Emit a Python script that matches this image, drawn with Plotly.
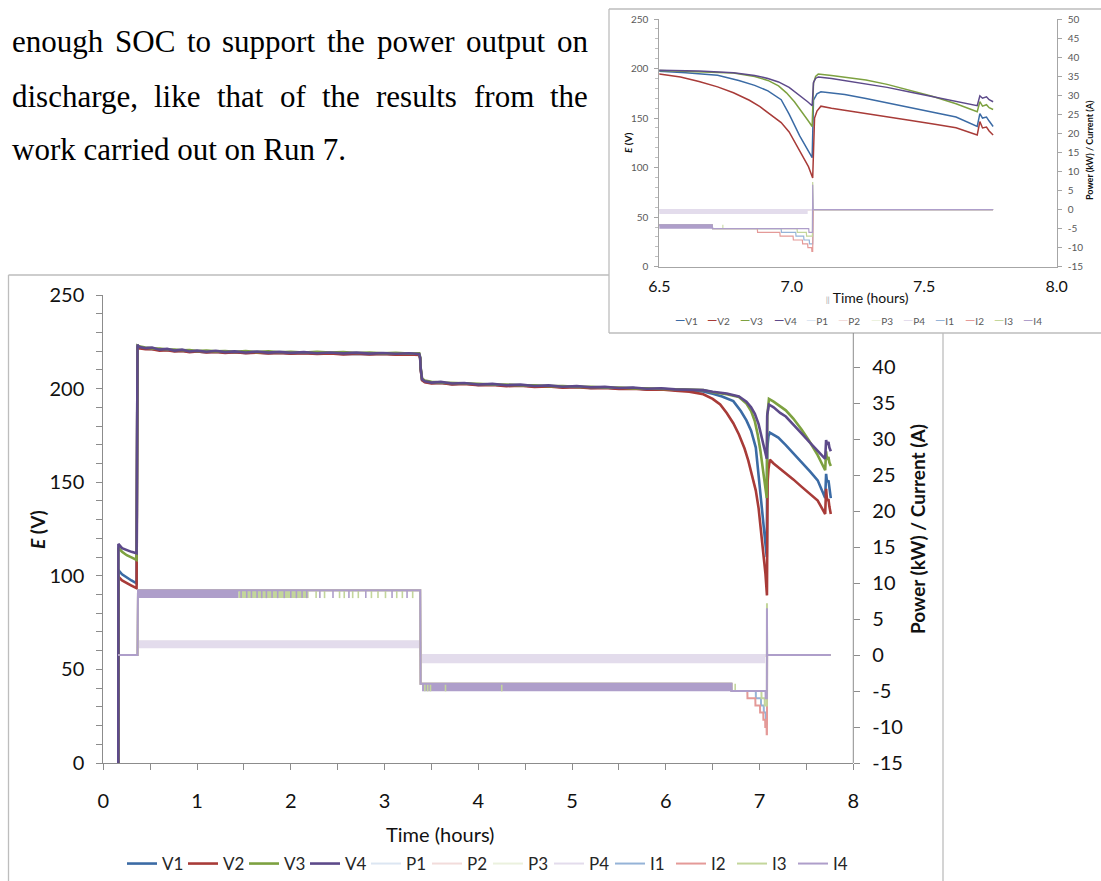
import plotly.graph_objects as go

W, H = 1101, 881
SANS = "Lato"
SERIF = "Liberation Serif"

# ---------------- stack voltages (left axis, V) ----------------
t_start = [0.16, 0.161, 0.20, 0.25, 0.30, 0.355]
t_run_a = [0.365, 0.38, 0.45, 0.52, 0.60, 0.68, 0.76, 0.84, 0.92, 1.00, 1.10, 1.20, 1.30, 1.40,
           1.52, 1.64, 1.76, 1.88, 2.00, 2.14, 2.28, 2.42, 2.56, 2.70, 2.84, 2.98, 3.12, 3.26, 3.37]
t_run_b = [3.38, 3.385, 3.40, 3.43, 3.50, 3.60, 3.72, 3.85, 4.00, 4.15, 4.30, 4.45, 4.60, 4.75,
           4.90, 5.05, 5.20, 5.35, 5.50, 5.65, 5.80, 5.95, 6.10, 6.25]

v1_start = [0, 103.0, 100.8, 99.0, 97.5, 96.0]
v2_start = [0, 99.5, 97.5, 96.0, 94.8, 93.4]
v3_start = [0, 115.0, 112.8, 111.0, 109.8, 108.5]
v4_start = [0, 117.0, 114.8, 113.6, 112.8, 112.0]

v1_run_a = [222.6, 221.9, 221.3, 221.2, 220.6, 220.7, 220.1, 220.3, 219.7, 219.9, 219.5, 219.7, 219.3, 219.5,
            219.1, 219.3, 218.9, 219.2, 218.8, 219.0, 218.6, 218.9, 218.5, 218.7, 218.4, 218.6, 218.3, 218.5, 218.2]
v2_run_a = [222.2, 221.6, 221.0, 221.0, 220.3, 220.5, 219.9, 220.1, 219.5, 219.8, 219.3, 219.6, 219.1, 219.4,
            218.9, 219.2, 218.8, 219.0, 218.6, 218.9, 218.5, 218.8, 218.3, 218.6, 218.2, 218.5, 218.1, 218.3, 218.0]
v3_run_a = [223.0, 222.6, 222.0, 221.5, 221.4, 220.9, 220.9, 220.5, 220.6, 220.0, 220.3, 219.9, 220.1, 219.6,
            220.0, 219.5, 219.9, 219.4, 219.7, 219.3, 219.6, 219.2, 219.5, 219.0, 219.3, 218.8, 219.1, 218.7, 218.8]
v4_run_a = [223.5, 222.3, 221.6, 221.9, 220.8, 221.2, 220.3, 220.8, 219.8, 220.3, 219.7, 220.2, 219.5, 219.9,
            219.3, 219.8, 219.2, 219.6, 219.1, 219.5, 218.9, 219.3, 218.8, 219.2, 218.7, 219.0, 218.6, 218.9, 218.5]

v1_run_b = [216.2, 210.6, 204.7, 203.6, 203.0, 203.2, 202.4, 202.7, 202.0, 202.2, 201.5, 201.8, 201.1, 201.4,
            200.7, 201.0, 200.4, 200.6, 200.0, 200.3, 199.6, 199.9, 199.3, 199.0]
v2_run_b = [216.0, 210.3, 204.5, 203.4, 202.8, 203.0, 202.2, 202.5, 201.8, 202.0, 201.3, 201.6, 200.9, 201.2,
            200.5, 200.8, 200.2, 200.4, 199.8, 200.0, 199.4, 199.6, 198.9, 198.4]
v3_run_b = [216.8, 211.5, 205.4, 204.3, 203.6, 203.2, 203.1, 202.6, 202.6, 202.1, 202.2, 201.7, 201.8, 201.3,
            201.4, 200.9, 201.0, 200.5, 200.6, 200.1, 200.2, 199.8, 199.8, 199.5]
v4_run_b = [216.5, 211.0, 205.0, 203.9, 203.2, 203.6, 202.7, 203.0, 202.2, 202.5, 201.8, 202.1, 201.4, 201.7,
            201.0, 201.3, 200.7, 200.9, 200.3, 200.6, 199.9, 200.2, 199.6, 199.4]

t_v1_end = [6.40, 6.50, 6.60, 6.72, 6.80, 6.86, 6.91, 6.96, 6.99, 7.03, 7.06, 7.077, 7.082, 7.095, 7.11,
            7.15, 7.20, 7.28, 7.36, 7.45, 7.54, 7.62, 7.70, 7.71, 7.72, 7.735, 7.745, 7.76]
v1_end = [198.5, 197.2, 195.8, 193.3, 188.0, 183.0, 177.5, 168.5, 154.0, 132.0, 118.0, 110.0, 168.0, 174.5, 176.5,
          175.2, 173.8, 169.8, 165.5, 160.8, 155.6, 151.0, 141.5, 154.5, 150.0, 151.0, 147.0, 141.5]

t_v2_end = [6.40, 6.50, 6.58, 6.65, 6.72, 6.78, 6.84, 6.88, 6.92, 6.96, 6.99, 7.02, 7.045, 7.063, 7.079, 7.086,
            7.095, 7.11, 7.15, 7.20, 7.28, 7.36, 7.45, 7.54, 7.62, 7.70, 7.71, 7.72, 7.735, 7.745, 7.76]
v2_end = [197.0, 194.5, 191.5, 187.0, 181.5, 175.5, 168.0, 161.5, 153.5, 145.5, 136.0, 122.0, 110.0, 101.0, 89.5, 150.0,
          157.0, 162.0, 160.0, 158.0, 155.0, 151.5, 147.5, 143.8, 140.2, 133.0, 146.5, 140.0, 141.0, 137.0, 133.0]

t_v3_end = [6.40, 6.50, 6.65, 6.78, 6.86, 6.91, 6.95, 6.98, 7.01, 7.04, 7.06, 7.077, 7.082, 7.09, 7.10,
            7.15, 7.22, 7.28, 7.36, 7.45, 7.53, 7.62, 7.70, 7.71, 7.72, 7.735, 7.745, 7.76]
v3_end = [199.2, 198.0, 197.0, 195.5, 192.0, 188.0, 182.5, 175.5, 166.5, 156.0, 148.0, 141.5, 185.0, 192.0, 194.5,
          193.0, 190.5, 188.4, 184.0, 178.0, 172.0, 164.5, 156.4, 166.5, 162.0, 163.5, 160.5, 158.7]

t_v4_end = [6.40, 6.50, 6.65, 6.78, 6.86, 6.91, 6.95, 6.99, 7.03, 7.06, 7.077, 7.082, 7.09, 7.10,
            7.15, 7.22, 7.28, 7.36, 7.45, 7.53, 7.62, 7.70, 7.71, 7.72, 7.735, 7.745, 7.76]
v4_end = [199.2, 198.3, 197.4, 195.8, 193.0, 190.0, 186.5, 181.0, 173.2, 166.5, 162.5, 186.0, 190.0, 191.5,
          190.0, 187.0, 185.1, 181.0, 176.0, 171.5, 167.0, 162.5, 172.5, 170.0, 171.5, 168.5, 166.5]

# ---------------- power (right axis, kW) ----------------
t_p = [0.16, 0.365, 0.37, 3.38, 3.385, 7.065, 7.08, 7.76]
p1 = [0, 0, 1.80, 1.80, -0.10, -0.10, 0, 0]
p2 = [0, 0, 1.75, 1.75, -0.15, -0.15, 0, 0]
p3 = [0, 0, 1.85, 1.85, -0.05, -0.05, 0, 0]
p4 = [0, 0, 1.90, 1.90, 0.00, 0.00, 0, 0]
# spread of the sampled power while running (start, end, low, high)
p_spread = [(0.37, 3.38, 0.95, 1.90), (3.39, 7.06, -1.15, -0.05)]

# ---------------- current (right axis, A) ----------------
t_i1 = [0.16, 0.365, 0.37, 3.38, 3.385, 6.70, 6.701, 6.96, 6.961, 7.015, 7.016, 7.045, 7.046, 7.066, 7.067,
        7.079, 7.081, 7.76]
i1 = [0, 0, 9.0, 9.0, -4.0, -4.0, -5.0, -5.0, -6.0, -6.0, -7.0, -7.0, -8.0, -8.0, -9.0, -9.0, 0, 0]
t_i2 = [0.16, 0.365, 0.37, 3.38, 3.385, 6.70, 6.701, 6.87, 6.871, 6.955, 6.956, 7.005, 7.006, 7.04, 7.041,
        7.06, 7.061, 7.075, 7.076, 7.079, 7.081, 7.76]
i2 = [0, 0, 9.0, 9.0, -4.0, -4.0, -5.0, -5.0, -6.0, -6.0, -7.0, -7.0, -8.0, -8.0, -9.0, -9.0, -10.0, -10.0,
      -11.0, -11.0, 0, 0]
t_i3 = [0.16, 0.365, 0.37, 3.38, 3.385, 6.70, 6.701, 7.02, 7.021, 7.055, 7.056, 7.078, 7.079, 7.081, 7.76]
i3 = [0, 0, 9.0, 9.0, -4.0, -4.0, -5.0, -5.0, -6.0, -6.0, -7.0, -7.0, 7.2, 0, 0]
t_i4 = [0.16, 0.365, 0.37, 3.38, 3.385, 6.70, 6.701, 7.064, 7.065, 7.078, 7.079, 7.081, 7.76]
i4 = [0, 0, 9.0, 9.0, -4.0, -4.0, -5.0, -5.0, -6.0, -6.0, 6.5, 0, 0]
# spread of the sampled current (start, end, low, high)
i3_spread = [(1.44, 2.19, 7.9, 9.0)]
i4_spread = [(0.37, 1.44, 7.9, 9.0), (3.40, 6.70, -5.05, -3.95)]
# single-sample dips (time, low, high)
i3_dips = [(2.27, 7.9, 9.0), (2.36, 7.9, 9.0), (2.52, 7.9, 9.0), (2.57, 7.9, 9.0), (2.66, 7.9, 9.0),
           (2.72, 7.9, 9.0), (2.86, 7.9, 9.0), (2.93, 7.9, 9.0), (3.01, 7.9, 9.0), (3.13, 7.9, 9.0),
           (3.19, 7.9, 9.0), (3.30, 7.9, 9.0), (3.43, -5.05, -3.95), (3.46, -5.05, -3.95),
           (3.49, -5.05, -3.95), (3.65, -5.05, -3.95), (4.25, -5.05, -3.95), (6.74, -5.0, -4.0)]
i4_dips = [(1.47, 7.9, 9.0), (1.53, 7.9, 9.0), (1.58, 7.9, 9.0), (1.64, 7.9, 9.0), (1.69, 7.9, 9.0),
           (1.74, 7.9, 9.0), (1.80, 7.9, 9.0), (1.86, 7.9, 9.0), (1.93, 7.9, 9.0), (2.00, 7.9, 9.0),
           (2.06, 7.9, 9.0), (2.12, 7.9, 9.0), (2.17, 7.9, 9.0), (2.31, 7.9, 9.0), (2.45, 7.9, 9.0),
           (2.62, 7.9, 9.0), (2.80, 7.9, 9.0), (3.08, 7.9, 9.0), (3.24, 7.9, 9.0)]

names = ["V1", "V2", "V3", "V4", "P1", "P2", "P3", "P4", "I1", "I2", "I3", "I4"]
colors = {"V1": "#3B6BA5", "V2": "#A83B38", "V3": "#7DA140", "V4": "#5D4A8A",
          "P1": "#DCE6F2", "P2": "#F2DCDB", "P3": "#EBF1DE", "P4": "#E3DCEC",
          "I1": "#95B3D7", "I2": "#E49A98", "I3": "#C3D69B", "I4": "#AE9ECA"}

right_ticks = [-15, -10, -5, 0, 5, 10, 15, 20, 25, 30, 35, 40, 45, 50]

v_series = {
    "V1": (t_start + t_run_a + t_run_b + t_v1_end, v1_start + v1_run_a + v1_run_b + v1_end),
    "V2": (t_start + t_run_a + t_run_b + t_v2_end, v2_start + v2_run_a + v2_run_b + v2_end),
    "V3": (t_start + t_run_a + t_run_b + t_v3_end, v3_start + v3_run_a + v3_run_b + v3_end),
    "V4": (t_start + t_run_a + t_run_b + t_v4_end, v4_start + v4_run_a + v4_run_b + v4_end),
}
p_series = {"P1": (t_p, p1), "P2": (t_p, p2), "P3": (t_p, p3), "P4": (t_p, p4)}
i_series = {"I1": (t_i1, i1), "I2": (t_i2, i2), "I3": (t_i3, i3), "I4": (t_i4, i4)}


def px(x):
    return x / W


def py(y):
    return 1 - y / H


fig = go.Figure()


def line(x, y, name, width, xa, ya, show):
    fig.add_trace(go.Scatter(x=x, y=y, mode="lines", name=name, legendgroup=name, showlegend=show,
                             line=dict(color=colors[name], width=width), xaxis=xa, yaxis=ya,
                             hoverinfo="skip"))


def spread(blocks, name, xa, ya):
    for a, b, lo, hi in blocks:
        fig.add_trace(go.Scatter(x=[a, b, b, a, a], y=[hi, hi, lo, lo, hi], mode="lines", fill="toself",
                                 fillcolor=colors[name], line=dict(width=0), legendgroup=name,
                                 showlegend=False, xaxis=xa, yaxis=ya, hoverinfo="skip"))


def dips(items, name, width, xa, ya):
    xs, ys = [], []
    for t, lo, hi in items:
        xs += [t, t, None]
        ys += [hi, lo, None]
    fig.add_trace(go.Scatter(x=xs, y=ys, mode="lines", line=dict(color=colors[name], width=width),
                             legendgroup=name, showlegend=False, xaxis=xa, yaxis=ya, hoverinfo="skip"))


# main chart and the 6.5-8 h close-up use the same series
panels = [("x", "y", "y2", 2.6, 2.0, 1.6, True),
          ("x2", "y3", "y4", 1.5, 1.2, 1.0, False)]
for xa, yl, yr, wv, wpi, wd, show in panels:
    for n in ["V1", "V2", "V3", "V4"]:
        line(*v_series[n], n, wv, xa, yl, show)
    for n in ["P1", "P2", "P3", "P4"]:
        line(*p_series[n], n, wpi, xa, yr, show)
    spread(p_spread, "P4", xa, yr)
    for n in ["I1", "I2", "I3"]:
        line(*i_series[n], n, wpi, xa, yr, show)
    spread(i3_spread, "I3", xa, yr)
    spread(i4_spread, "I4", xa, yr)
    dips(i3_dips, "I3", wd, xa, yr)
    dips(i4_dips, "I4", wd, xa, yr)
    line(*i_series["I4"], "I4", wpi, xa, yr, show)

AX = "#8C8C8C"
main_x = [103.3, 853.3]
main_y = [295.0, 763.0]
ins_x = [659.3, 1056.7]
ins_y = [19.0, 266.7]

fig.update_layout(
    width=W, height=H, margin=dict(l=0, r=0, t=0, b=0, autoexpand=False),
    paper_bgcolor="white", plot_bgcolor="rgba(0,0,0,0)",
    font=dict(family=SANS, color="#1F1F1F"),
    xaxis=dict(domain=[px(main_x[0]), px(main_x[1])], anchor="y", range=[0, 8], tickvals=list(range(9)),
               showgrid=False, zeroline=False, showline=True, linecolor=AX, linewidth=1,
               ticks="outside", ticklen=6, tickcolor=AX,
               minor=dict(tickvals=[0.5, 1.5, 2.5, 3.5, 4.5, 5.5, 6.5, 7.5], ticks="outside", ticklen=6,
                          tickcolor=AX),
               tickfont=dict(size=20, color="#111111"), ticklabelstandoff=14),
    yaxis=dict(domain=[py(main_y[1]), py(main_y[0])], anchor="x", range=[0, 250], dtick=50,
               showgrid=False, zeroline=False, showline=True, linecolor=AX, linewidth=1,
               ticks="outside", ticklen=6, tickcolor=AX,
               minor=dict(dtick=10, ticks="outside", ticklen=6, tickcolor=AX, showgrid=False),
               tickfont=dict(size=20, color="#111111"), ticklabelstandoff=8),
    yaxis2=dict(overlaying="y", side="right", anchor="x", range=[-15, 50],
                tickvals=right_ticks[:12], ticktext=[str(v) for v in right_ticks[:12]],
                showgrid=False, zeroline=False, showline=False, ticks="outside", ticklen=6, tickcolor=AX,
                tickfont=dict(size=20, color="#111111"), ticklabelstandoff=8),
    xaxis2=dict(domain=[px(ins_x[0]), px(ins_x[1])], anchor="y3", range=[6.5, 8.0],
                tickvals=[6.5, 7.0, 7.5, 8.0], ticktext=["6.5", "7.0", "7.5", "8.0"],
                showgrid=False, zeroline=False, showline=True, linecolor="#A6A6A6", linewidth=1,
                ticks="", tickfont=dict(size=16, color="#111111"), ticklabelstandoff=5),
    yaxis3=dict(domain=[py(ins_y[1]), py(ins_y[0])], anchor="x2", range=[0, 250], dtick=50,
                showgrid=False, zeroline=False, showline=True, linecolor="#A6A6A6", linewidth=1,
                ticks="outside", ticklen=4, tickcolor="#A6A6A6",
                minor=dict(dtick=10, ticks="outside", ticklen=3, tickcolor="#BFBFBF", showgrid=False),
                tickfont=dict(size=10, color="#595959"), ticklabelstandoff=4),
    yaxis4=dict(overlaying="y3", side="right", anchor="x2", range=[-15, 50],
                tickvals=right_ticks, ticktext=[str(v) for v in right_ticks],
                showgrid=False, zeroline=False, showline=True, linecolor="#A6A6A6", linewidth=1,
                ticks="outside", ticklen=4, tickcolor="#A6A6A6",
                tickfont=dict(size=10, color="#595959"), ticklabelstandoff=4),
    legend=dict(orientation="h", x=px(122), xanchor="left", y=py(846), yanchor="top",
                font=dict(family=SANS, size=17, color="#262626"), bgcolor="rgba(0,0,0,0)",
                itemwidth=30, entrywidth=16, entrywidthmode="pixels", traceorder="normal",
                tracegroupgap=0),
)

FRAME = "#BDBDBD"
shapes = [
    # main chart border (partly hidden behind the close-up)
    dict(x0=8.5, y0=275, x1=609, y1=275),
    dict(x0=8.5, y0=275, x1=8.5, y1=881),
    dict(x0=943, y0=333, x1=943, y1=881),
    # close-up border
    dict(x0=609, y0=9, x1=1101, y1=9),
    dict(x0=609, y0=9, x1=609, y1=333),
    dict(x0=609, y0=333, x1=1101, y1=333),
]
for s in shapes:
    fig.add_shape(type="line", xref="paper", yref="paper", x0=px(s["x0"]), x1=px(s["x1"]),
                  y0=py(s["y0"]), y1=py(s["y1"]), line=dict(color=FRAME, width=1.3))
# main right axis line, visible below the close-up
fig.add_shape(type="line", xref="paper", yref="paper", x0=px(main_x[1]), x1=px(main_x[1]),
              y0=py(333), y1=py(main_y[1]), line=dict(color=AX, width=1))


def note(text, x, y, size, family=SANS, color="#111111", angle=0, xanchor="center"):
    fig.add_annotation(text=text, x=px(x), y=py(y), xref="paper", yref="paper", showarrow=False,
                       font=dict(family=family, size=size, color=color), textangle=angle,
                       xanchor=xanchor, yanchor="middle")


# body text above the chart (justified lines set word by word)
para = [
    (41, [("enough", 9.6), ("SOC", 112.6), ("to", 184.6), ("support", 220.4), ("the", 325.1),
          ("power", 374.7), ("output", 463.9), ("on", 554.8)]),
    (96, [("discharge,", 9.6), ("like", 152.4), ("that", 215.2), ("of", 278.0), ("the", 320.1),
          ("results", 374.3), ("from", 471.6), ("the", 548.2)]),
    (150, [("work carried out on Run 7.", 9.6)]),
]
for yy, words in para:
    for w, xx in words:
        note(w, xx, yy, 31, family=SERIF, color="#000000", xanchor="left")

# axis titles
note("Time (hours)", 440, 834, 20)
note("<b><i>E</i> (V)</b>", 37, 529, 19, angle=-90)
note("<b>Power (kW) / Current (A)</b>", 917, 529, 19, angle=-90)
note("<b><i>E</i> (V)</b>", 628, 143, 10, angle=-90)
note("<b>Power (kW) / Current (A)</b>", 1090, 150, 9, angle=-90)
note("<span style='font-size:7px;color:#8a8a8a'>||</span> Time (hours)", 867, 297, 14)

# compact key for the close-up
key_x = [673, 705, 738, 771.7, 804, 835.7, 869.3, 901, 933.3, 962.7, 991.7, 1020.7]
for n, kx in zip(names, key_x):
    note(f"<span style='color:{colors[n]};font-size:13px'>—</span>{n}", kx, 320, 10,
         color="#595959", xanchor="left")

fig.write_html("out.html")
